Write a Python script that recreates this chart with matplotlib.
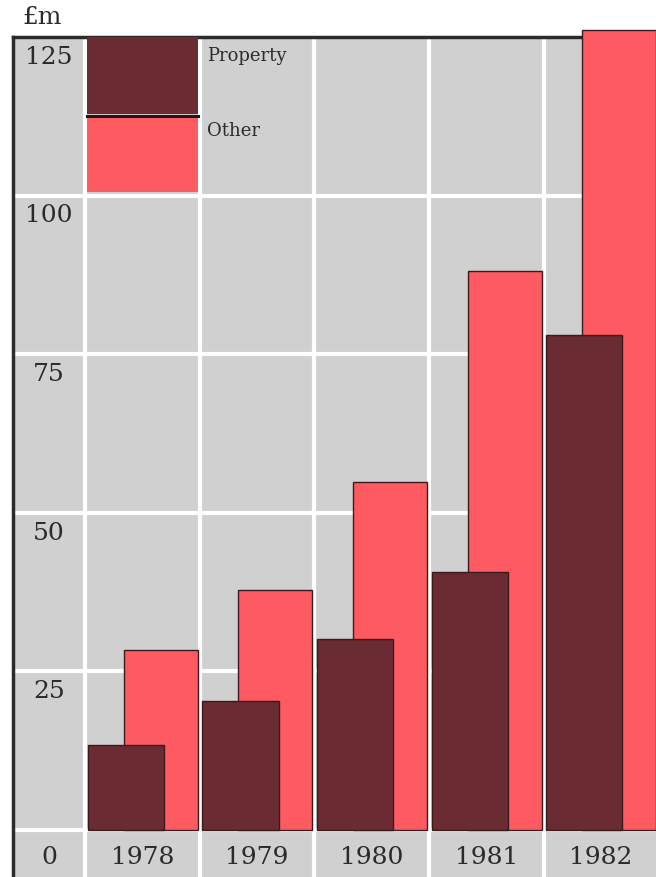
import matplotlib.pyplot as plt
from matplotlib.patches import Rectangle

years = ["1978", "1979", "1980", "1981", "1982"]
property_vals = [13.4, 20.3, 30.1, 40.7, 78.0]
other_vals = [28.4, 37.8, 54.9, 88.1, 126.1]
y_ticks = [0, 25, 50, 75, 100, 125]

PROPERTY_C = "#6b2b33"
OTHER_C = "#fe5a61"
BG = "#d0d0d0"
INK = "#2b2b2b"

plt.rcParams['font.family'] = ['DejaVu Serif']

fig = plt.figure(figsize=(6.56, 8.77), dpi=100)
ax = fig.add_axes([13 / 656, 0, 1 - 13 / 656, 1 - 37 / 877])
ax.set_facecolor(BG)

x = list(range(len(years)))
ax.bar([i - 0.145 for i in x], property_vals, width=0.664, color=PROPERTY_C,
       edgecolor="#3a1a1c", linewidth=1, zorder=4, clip_on=False)
ax.bar([i + 0.16 for i in x], other_vals, width=0.646, color=OTHER_C,
       edgecolor="#3a1a1c", linewidth=1, zorder=3, clip_on=False)

ax.set_xlim(-1.13, 4.48)
ax.set_ylim(-7.4, 125)

# white grid between the cells
ax.set_xticks([i - 0.5 for i in x])
ax.set_yticks(y_ticks)
ax.grid(True, color="white", linewidth=3)
ax.set_axisbelow(True)
ax.tick_params(length=0, labelbottom=False, labelleft=False)

for side in ["right", "bottom"]:
    ax.spines[side].set_visible(False)
for side in ["left", "top"]:
    ax.spines[side].set_color(INK)
    ax.spines[side].set_linewidth(2.5)

# y labels sit just under their grid line; 0 goes in the year row
label_x = (-1.13 - 0.5) / 2
for v in y_ticks:
    ty = v - 3.2 if v > 0 else -4.3
    ax.text(label_x, ty, str(v), ha="center", va="center", fontsize=18, color=INK)
for i, yr in enumerate(years):
    ax.text(i, -4.3, yr, ha="center", va="center", fontsize=18, color=INK)

# legend swatches in the top cell of the first column
ax.add_patch(Rectangle((-0.485, 112.8), 0.97, 12.2, facecolor=PROPERTY_C,
                       edgecolor="none", zorder=3))
ax.plot([-0.485, 0.485], [112.6, 112.6], color="#2a1214", linewidth=2.2, zorder=4)
ax.add_patch(Rectangle((-0.485, 100.6), 0.97, 11.8, facecolor=OTHER_C,
                       edgecolor="none", zorder=3))
ax.text(0.56, 122.0, "Property", ha="left", va="center", fontsize=13, color=INK)
ax.text(0.56, 110.2, "Other", ha="left", va="center", fontsize=13, color=INK)

fig.text(22 / 656, 1 - 18 / 877, "£m", ha="left", va="center", fontsize=18, color=INK)

fig.savefig("out.png", dpi=100)
